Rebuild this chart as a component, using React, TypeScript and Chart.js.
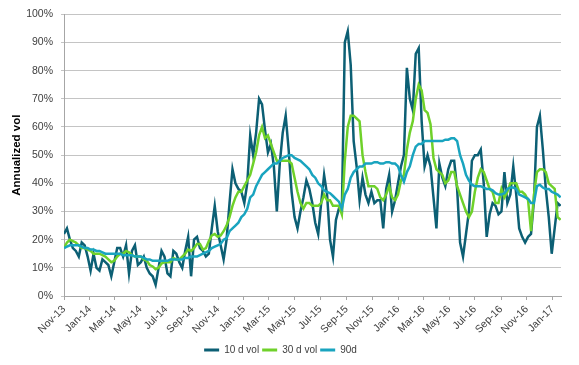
import React, { useEffect, useRef } from 'react';
import { Chart, registerables } from 'chart.js';

Chart.register(...registerables);

// Weekly samples starting 1 Nov 2013 (day 0), one value per week
const WEEK_DAYS = 7;
const X_MAX_DAYS = 1177;

const tickLabels = [
  'Nov-13', 'Jan-14', 'Mar-14', 'May-14', 'Jul-14', 'Sep-14', 'Nov-14',
  'Jan-15', 'Mar-15', 'May-15', 'Jul-15', 'Sep-15', 'Nov-15',
  'Jan-16', 'Mar-16', 'May-16', 'Jul-16', 'Sep-16', 'Nov-16', 'Jan-17',
];

const vol10d = [
  22, 24, 20, 17, 16, 14, 19, 18, 14, 9,
  15, 10, 9, 13, 12, 11, 7, 12, 17, 17,
  14, 18, 8, 16, 18, 11, 12, 14, 10, 8,
  7, 4, 10, 16, 14, 8, 7, 16, 15, 12,
  10, 16, 21, 7, 20, 21, 17, 16, 14, 15,
  24, 32, 23, 18, 13, 20, 33, 45, 40, 38,
  37, 33, 40, 57, 50, 58, 70, 68, 59, 51,
  54, 46, 30, 47, 58, 64, 52, 37, 28, 24,
  30, 35, 41, 38, 33, 26, 22, 33, 43, 36,
  20, 14, 27, 31, 30, 90, 94, 82, 55, 46,
  34, 42, 36, 33, 37, 33, 34, 34, 24, 38,
  43, 30, 34, 40, 46, 50, 81, 70, 66, 86,
  88, 62, 46, 50, 46, 35, 24, 47, 42, 39,
  45, 48, 48, 38, 19, 14, 22, 30, 48, 50,
  50, 52, 40, 21, 29, 33, 32, 29, 30, 44,
  33, 36, 46, 36, 24, 21, 19, 21, 22, 34,
  60, 64, 52, 38, 28, 15, 24, 33, 32,
];

const vol30d = [
  17, 19, 20, 19.5, 19, 18, 17, 17, 16.5, 16,
  15, 15, 15, 14.5, 14, 13, 12, 12.5, 14, 15,
  15, 16, 15.5, 14.5, 14, 14, 14, 13, 12.5, 11,
  10.5, 9.5, 10, 11.5, 12, 12, 12, 13.5, 13, 13,
  14, 15, 16.5, 16, 17, 18.5, 18.5, 16.5, 17, 19.5,
  21.5, 22, 21, 21.5, 23, 25, 28, 32, 35, 37,
  37, 39, 41, 43, 47, 51, 57, 60, 56, 57,
  54, 51, 48, 48, 48, 48, 48, 47, 42, 37,
  33, 31, 33, 33, 32, 32, 32, 33, 36, 34,
  34, 32, 32, 32, 29, 48, 60, 64, 64, 63,
  62, 50, 44, 39, 39, 39, 38, 35, 34, 36,
  39, 35, 34, 36, 41, 43, 52, 58, 62, 70,
  75, 73, 66, 65, 61, 49, 45, 44, 43, 40,
  41, 44, 44, 39, 36, 33, 30, 28, 30, 37,
  42, 45, 44, 41, 38, 37, 33, 33, 38, 35,
  37, 40, 40, 40, 37, 37, 36, 34, 23, 36,
  44, 45, 45, 44, 40, 39, 38, 28, 27,
];

const vol90d = [
  17, 17.5, 18, 18, 18, 18, 17.5, 17, 17, 16.5,
  16.5, 16, 16, 15.5, 15, 15, 15, 15, 15, 15,
  14.5, 14.5, 14.5, 14.5, 14, 14, 14, 13.5, 13, 13,
  12.5, 12.5, 12.5, 12.5, 12.5, 12.5, 13, 13, 13, 13,
  13, 13.5, 13.5, 14, 14, 14, 14.5, 15, 15.5, 16,
  17, 17.5, 18, 18.5, 20, 20.5, 23, 24, 25, 26,
  28, 29, 31, 35, 36, 39, 41, 43, 44, 45,
  46, 47, 47, 48, 49, 49.5, 50, 50, 49, 48.5,
  48, 47, 46, 45, 43, 42, 40, 39, 37.5, 37,
  36.5, 35.5, 34.5, 33.5, 31, 36, 38, 42, 44, 45,
  46, 46, 47, 47, 47, 47.5, 47.5, 47, 47, 47.5,
  47.5, 47, 47, 46, 43, 40.5, 44, 46, 50, 53,
  54, 54, 55, 55, 55, 55, 55, 55, 55, 55.5,
  55.5, 56, 56, 55, 50, 47, 43, 41, 39.5, 39,
  39, 39, 38.5, 38, 38, 37.5, 36.5, 36, 36, 36.5,
  38, 38.5, 38.5, 38, 36, 35.5, 35, 34.5, 33, 33,
  39, 39.5, 38.5, 38, 38, 37, 36.5, 36, 35,
];

const C10 = '#0c5f74';
const C30 = '#6fd12a';
const C90 = '#19a4bf';
const FONT = 'Liberation Sans, Arial, sans-serif';
const MONTHS = ['Jan', 'Feb', 'Mar', 'Apr', 'May', 'Jun', 'Jul', 'Aug', 'Sep', 'Oct', 'Nov', 'Dec'];

function tickDay(label: string): number {
  const m = MONTHS.indexOf(label.slice(0, 3));
  const y = 2000 + parseInt(label.slice(4), 10);
  return Math.round((Date.UTC(y, m, 1) - Date.UTC(2013, 10, 1)) / 86400000);
}

const toPoints = (arr: number[]) => arr.map((v, i) => ({ x: i * WEEK_DAYS, y: v }));

export default function App() {
  const ref = useRef<HTMLCanvasElement>(null);

  useEffect(() => {
    if (!ref.current) return;
    const tickDays = tickLabels.map(tickDay);
    const chart = new Chart(ref.current, {
      type: 'line',
      data: {
        datasets: [
          { label: '10 d vol', data: toPoints(vol10d), borderColor: C10, backgroundColor: C10, borderWidth: 2.5, pointRadius: 0, tension: 0, order: 3 },
          { label: '30 d vol', data: toPoints(vol30d), borderColor: C30, backgroundColor: C30, borderWidth: 2.5, pointRadius: 0, tension: 0, order: 2 },
          { label: '90d', data: toPoints(vol90d), borderColor: C90, backgroundColor: C90, borderWidth: 2.5, pointRadius: 0, tension: 0, order: 1 },
        ],
      },
      options: {
        animation: false,
        responsive: false,
        devicePixelRatio: 1,
        layout: { padding: { left: 0, right: 18, top: 5, bottom: 0 } },
        plugins: {
          tooltip: { enabled: false },
          legend: {
            position: 'bottom',
            labels: {
              boxWidth: 15,
              boxHeight: 3,
              padding: 3,
              color: '#404040',
              font: { family: FONT, size: 10 },
              sort: (a: any, b: any) => a.datasetIndex - b.datasetIndex,
              generateLabels: (c: any) =>
                (Chart.defaults.plugins.legend.labels.generateLabels as any)(c).map((l: any) => ({
                  ...l,
                  lineWidth: 0,
                  fillStyle: l.strokeStyle,
                })),
            },
          },
        },
        scales: {
          x: {
            type: 'linear',
            min: 0,
            max: X_MAX_DAYS,
            afterBuildTicks: (s: any) => {
              s.ticks = tickDays.map((v) => ({ value: v }));
            },
            afterFit: (s: any) => {
              s.height = 46;
            },
            grid: { drawOnChartArea: false, drawTicks: true, tickLength: 4, color: '#a6a6a6' },
            border: { color: '#a6a6a6' },
            ticks: {
              autoSkip: false,
              maxRotation: 45,
              minRotation: 45,
              padding: 3,
              color: '#404040',
              font: { family: FONT, size: 10.5 },
              callback: (_v: any, i: number) => tickLabels[i],
            },
          },
          y: {
            min: 0,
            max: 100,
            afterFit: (s: any) => {
              s.width = 64;
            },
            grid: { color: '#c4c4c4', tickLength: 3 },
            border: { color: '#a6a6a6' },
            ticks: {
              stepSize: 10,
              padding: 8,
              color: '#404040',
              font: { family: FONT, size: 10.5 },
              callback: (v: any) => v + '%',
            },
            title: {
              display: true,
              text: 'Annualized vol',
              color: '#000',
              font: { family: FONT, size: 11.5, weight: 'bold' },
              padding: { top: 10, bottom: 0 },
            },
          },
        },
      } as any,
    });
    return () => chart.destroy();
  }, []);

  return (
    <div style={{ position: 'fixed', left: 0, top: 0, width: 579, height: 365, background: '#fff' }}>
      <canvas ref={ref} width={579} height={365} style={{ width: 579, height: 365, display: 'block' }} />
    </div>
  );
}
